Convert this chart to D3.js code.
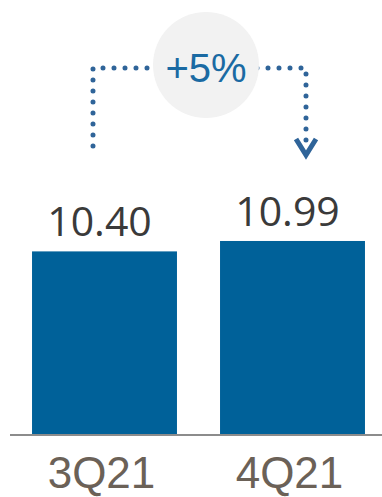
<!DOCTYPE html>
<html>
<head>
<meta charset="utf-8">
<script src="https://cdn.jsdelivr.net/npm/d3@7"></script>
<style>
  html, body { margin: 0; padding: 0; background: #ffffff; }
  svg { display: block; }
</style>
</head>
<body>
<svg id="chart" width="382" height="497"></svg>
<script>
// Quarterly values
const categories = ["3Q21", "4Q21"];
const values = [10.40, 10.99];
const valueLabels = ["10.40", "10.99"];
const changeLabel = "+5%";

const W = 382, H = 497;
const baseY = 435;
const narrow = "'Liberation Sans Narrow', 'Arial Narrow', sans-serif";

const svg = d3.select("#chart");

const x = d3.scaleBand()
  .domain(categories)
  .range([10.5, 386.5])
  .paddingInner(0.229)
  .paddingOuter(0.1145);

const y = d3.scaleLinear()
  .domain([0, 11])
  .range([baseY, baseY - 194.2]);

// Bars
svg.selectAll("rect.bar")
  .data(categories)
  .join("rect")
  .attr("class", "bar")
  .attr("x", d => x(d))
  .attr("width", x.bandwidth())
  .attr("y", (d, i) => y(values[i]))
  .attr("height", (d, i) => y(0) - y(values[i]))
  .attr("fill", "#006199");

// Baseline
svg.append("line")
  .attr("x1", 10).attr("x2", W)
  .attr("y1", baseY).attr("y2", baseY)
  .attr("stroke", "#8c8c8c")
  .attr("stroke-width", 2);

// Value labels above bars
svg.selectAll("text.val")
  .data(categories)
  .join("text")
  .attr("class", "val")
  .attr("x", d => x(d) + x.bandwidth() / 2 - 5)
  .attr("y", (d, i) => y(values[i]) - 15)
  .attr("text-anchor", "middle")
  .attr("font-family", "'Open Sans', sans-serif")
  .attr("font-size", 41)
  .attr("fill", "#3a3a3a")
  .text((d, i) => valueLabels[i]);

// Category labels
svg.selectAll("text.cat")
  .data(categories)
  .join("text")
  .attr("class", "cat")
  .attr("x", d => x(d) + x.bandwidth() / 2 - 3)
  .attr("y", 488)
  .attr("text-anchor", "middle")
  .attr("font-family", narrow)
  .attr("font-size", 44)
  .attr("fill", "#6b6157")
  .text(d => d);

// Dotted connector from first bar to second
const leftX = 93, rightX = 306, topY = 68;
const dotColor = "#2f6499";
const path = d3.path();
path.moveTo(leftX, 146);
path.lineTo(leftX, topY);
path.lineTo(rightX, topY);
path.lineTo(rightX, 146);
svg.append("path")
  .attr("d", path.toString())
  .attr("fill", "none")
  .attr("stroke", dotColor)
  .attr("stroke-width", 5)
  .attr("stroke-linecap", "round")
  .attr("stroke-dasharray", "0 11");

// Arrow head
svg.append("path")
  .attr("d", `M${rightX - 10},${139} L${rightX},${155} L${rightX + 10},${139}`)
  .attr("fill", "none")
  .attr("stroke", dotColor)
  .attr("stroke-width", 5)
  .attr("stroke-linejoin", "miter");

// Change badge
svg.append("circle")
  .attr("cx", 206).attr("cy", 65).attr("r", 53)
  .attr("fill", "#f2f2f2");

svg.append("text")
  .attr("x", 206).attr("y", 82)
  .attr("text-anchor", "middle")
  .attr("font-family", narrow)
  .attr("font-size", 40)
  .attr("fill", "#1a6aa3")
  .text(changeLabel);
</script>
</body>
</html>
